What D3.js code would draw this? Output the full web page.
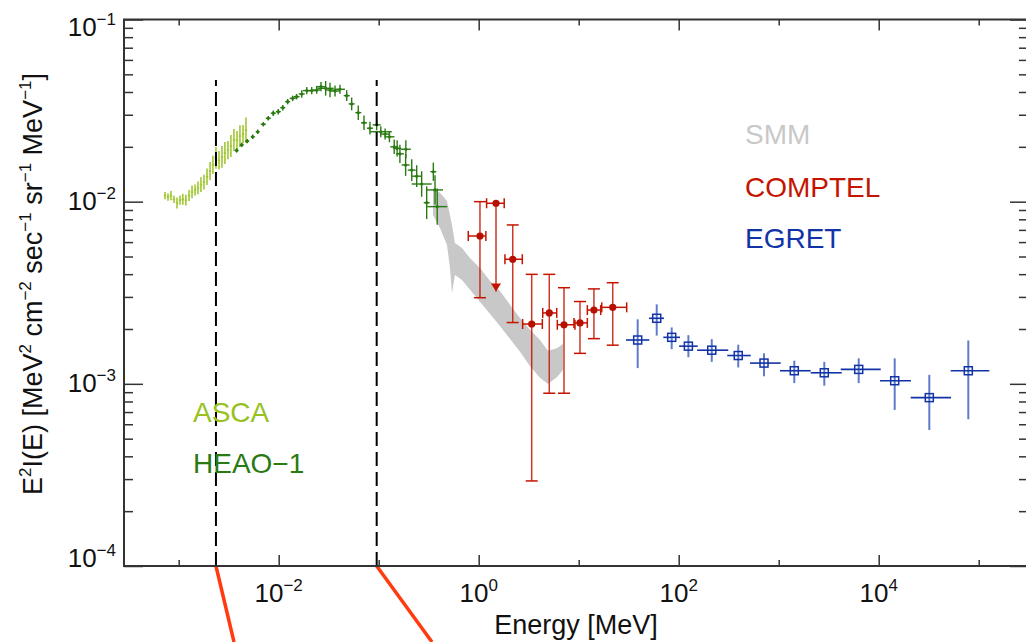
<!DOCTYPE html>
<html>
<head>
<meta charset="utf-8">
<script src="https://cdn.jsdelivr.net/npm/d3@7"></script>
<style>
body { margin: 0; background: #fff; }
text { font-family: "Liberation Sans", Arial, Helvetica, sans-serif; }
</style>
</head>
<body>
<svg id="chart" width="1026" height="642"></svg>
<script>
// ---- data (energies in MeV, E^2 I(E) in MeV^2 cm^-2 s^-1 sr^-1 MeV^-1) ----
const xMajor = [1e-2, 1, 1e2, 1e4];
const xMinor = [1e-3, 1e-1, 1e1, 1e3, 1e5];
const yMajor = [1e-4, 1e-3, 1e-2, 1e-1];
const xExp = ["\u22122", "0", "2", "4"];
const yExp = ["\u22124", "\u22123", "\u22122", "\u22121"];

// ASCA
const ascaE = [7.30e-4, 7.82e-4, 8.38e-4, 8.97e-4, 9.62e-4, 1.03e-3, 1.10e-3, 1.18e-3, 1.27e-3, 1.36e-3,
  1.46e-3, 1.56e-3, 1.67e-3, 1.79e-3, 1.92e-3, 2.06e-3, 2.20e-3, 2.36e-3, 2.53e-3, 2.71e-3,
  2.90e-3, 3.11e-3, 3.33e-3, 3.57e-3, 3.83e-3, 4.10e-3, 4.40e-3, 4.71e-3];
const ascaFlux = [1.08e-2, 1.06e-2, 1.08e-2, 1.03e-2, 9.84e-3, 1.02e-2, 1.03e-2, 1.02e-2, 1.08e-2, 1.13e-2,
  1.16e-2, 1.19e-2, 1.24e-2, 1.28e-2, 1.37e-2, 1.47e-2, 1.59e-2, 1.74e-2, 1.69e-2, 1.76e-2,
  1.85e-2, 1.92e-2, 2.02e-2, 2.18e-2, 2.18e-2, 2.29e-2, 2.35e-2, 2.47e-2];
const ascaErrDex = [0.02, 0.02, 0.025, 0.02, 0.03, 0.025, 0.03, 0.03, 0.03, 0.035,
  0.03, 0.035, 0.04, 0.04, 0.045, 0.05, 0.05, 0.06, 0.05, 0.06,
  0.06, 0.05, 0.06, 0.06, 0.05, 0.06, 0.05, 0.07];

// HEAO-1
const heaoE = [3.80e-3, 4.27e-3, 4.85e-3, 5.50e-3, 6.17e-3, 7.02e-3, 7.87e-3, 8.83e-3, 9.91e-3, 1.10e-2,
  1.23e-2, 1.38e-2, 1.51e-2, 1.70e-2, 1.91e-2, 2.14e-2, 2.40e-2, 2.65e-2, 2.95e-2, 3.26e-2, 3.66e-2,
  4.10e-2, 4.79e-2, 5.37e-2, 6.25e-2, 7.13e-2, 8.18e-2, 9.55e-2, 0.105, 0.116, 0.128,
  0.143, 0.153, 0.163, 0.186, 0.187, 0.214, 0.240, 0.269, 0.302, 0.352, 0.366, 0.385];
const heaoFlux = [1.91e-2, 2.05e-2, 2.15e-2, 2.27e-2, 2.42e-2, 2.66e-2, 2.87e-2, 3.06e-2, 3.12e-2, 3.28e-2,
  3.54e-2, 3.69e-2, 3.77e-2, 3.90e-2, 4.07e-2, 4.07e-2, 4.10e-2, 4.28e-2, 4.19e-2, 4.10e-2, 4.05e-2,
  4.14e-2, 3.82e-2, 3.44e-2, 3.08e-2, 2.71e-2, 2.53e-2, 2.64e-2, 2.42e-2, 2.35e-2, 2.27e-2,
  2.00e-2, 1.96e-2, 1.83e-2, 1.59e-2, 1.94e-2, 1.49e-2, 1.38e-2, 1.25e-2, 9.87e-3, 1.46e-2, 1.16e-2, 9.39e-3];
const heaoDxDex = [0.02, 0.02, 0.02, 0.02, 0.02, 0.025, 0.025, 0.025, 0.025, 0.025,
  0.025, 0.03, 0.03, 0.03, 0.04, 0.04, 0.04, 0.05, 0.08, 0.05, 0.05,
  0.05, 0.03, 0.03, 0.03, 0.03, 0.03, 0.04, 0.11, 0.05, 0.05,
  0.04, 0.04, 0.04, 0.04, 0.05, 0.04, 0.05, 0.1, 0.03, 0.03, 0.08, 0.1];
const heaoDyDex = [0.012, 0.012, 0.012, 0.012, 0.012, 0.012, 0.012, 0.015, 0.015, 0.015,
  0.015, 0.015, 0.015, 0.02, 0.02, 0.02, 0.02, 0.025, 0.04, 0.04, 0.03,
  0.025, 0.03, 0.035, 0.04, 0.04, 0.035, 0.03, 0.03, 0.03, 0.03,
  0.04, 0.045, 0.05, 0.06, 0.05, 0.06, 0.06, 0.07, 0.09, 0.05, 0.08, 0.1];

// SMM band
const smmE = [0.349, 0.410, 0.482, 0.516, 0.541, 0.579, 0.681, 0.818, 1.03, 1.30, 1.63, 2.06, 2.59, 3.26, 4.10, 4.93, 6.07, 6.97];
const smmHi = [1.19e-2, 1.12e-2, 1.01e-2, 8.45e-3, 7.45e-3, 5.93e-3, 5.57e-3, 4.91e-3, 4.33e-3, 3.67e-3, 3.24e-3, 2.71e-3, 2.30e-3, 1.98e-3, 1.74e-3, 1.52e-3, 1.57e-3, 1.66e-3];
const smmLo = [8.45e-3, 7.17e-3, 5.78e-3, 4.33e-3, 3.15e-3, 3.96e-3, 3.72e-3, 3.28e-3, 2.82e-3, 2.42e-3, 2.08e-3, 1.76e-3, 1.50e-3, 1.25e-3, 1.08e-3, 9.99e-4, 1.09e-3, 1.19e-3];

// COMPTEL (second point is an upper limit)
const comptelE = [1.03, 1.49, 2.19, 3.39, 5.08, 7.13, 10.3, 14.2, 21.9];
const comptelElo = [0.787, 1.20, 1.83, 2.75, 4.37, 6.11, 8.97, 12.2, 17.0];
const comptelEhi = [1.18, 1.80, 2.73, 4.33, 6.03, 9.18, 12.2, 16.6, 30.2];
const comptelFlux = [6.48e-3, 9.80e-3, 4.83e-3, 2.13e-3, 2.45e-3, 2.11e-3, 2.16e-3, 2.54e-3, 2.63e-3];
const comptelLo = [2.97e-3, 3.21e-3, 2.17e-3, 2.93e-4, 8.88e-4, 8.88e-4, 1.47e-3, 1.77e-3, 1.63e-3];
const comptelHi = [1.00e-2, 9.80e-3, 7.45e-3, 3.99e-3, 3.99e-3, 3.37e-3, 2.83e-3, 3.32e-3, 3.59e-3];
const comptelLimit = [false, true, false, false, false, false, false, false, false];

// EGRET
const egretE = [38.9, 60.3, 85.1, 125, 214, 394, 713, 1432, 2858, 6310, 14450, 32060, 78700];
const egretElo = [29.7, 50.5, 70.2, 101, 153, 306, 516, 1030, 2089, 4169, 10300, 20890, 52480];
const egretEhi = [50.8, 71.3, 103, 155, 313, 525, 1047, 2089, 4266, 10470, 21040, 52840, 127600];
const egretFlux = [1.74e-3, 2.29e-3, 1.80e-3, 1.61e-3, 1.53e-3, 1.43e-3, 1.30e-3, 1.18e-3, 1.15e-3, 1.20e-3, 1.04e-3, 8.40e-4, 1.18e-3];
const egretLo = [1.22e-3, 1.84e-3, 1.55e-3, 1.40e-3, 1.32e-3, 1.23e-3, 1.10e-3, 1.01e-3, 9.77e-4, 1.01e-3, 7.19e-4, 5.58e-4, 6.39e-4];
const egretHi = [2.26e-3, 2.73e-3, 2.04e-3, 1.85e-3, 1.76e-3, 1.64e-3, 1.47e-3, 1.34e-3, 1.32e-3, 1.38e-3, 1.38e-3, 1.12e-3, 1.73e-3];

// band edges of the two instruments (dashed lines)
const bandEdges = [2.36e-3, 9.55e-2];
const bandTop = 4.66e-2;

// ---- scales ----
const svg = d3.select("#chart");
const x = d3.scaleLog().domain([2.84e-4, 3.04e5]).range([124, 1027]);
const y = d3.scaleLog().domain([1e-4, 1e-1]).range([566, 19.5]);
const dex = (v, d) => v * Math.pow(10, d);

const cAsca = "#97c11f", cHeao = "#2a7a12", cSmm = "#c8c8c8",
      cComp = "#c41400", cEgret = "#1232a8", cEgretV = "#5f7ccb";

// ---- SMM band ----
const smmData = smmE.map((e, i) => ({e: e, lo: smmLo[i], hi: smmHi[i]}));
svg.append("path")
    .datum(smmData)
    .attr("fill", cSmm)
    .attr("d", d3.area().x(d => x(d.e)).y0(d => y(d.lo)).y1(d => y(d.hi)));

// ---- ASCA ----
const gA = svg.append("g").attr("stroke", cAsca).attr("stroke-width", 1.6).attr("opacity", 0.9);
ascaE.forEach((e, i) => {
    const f = ascaFlux[i], d = ascaErrDex[i];
    gA.append("line").attr("x1", x(e)).attr("x2", x(e))
        .attr("y1", y(dex(f, -d))).attr("y2", y(dex(f, d)));
    gA.append("line").attr("x1", x(dex(e, -0.012))).attr("x2", x(dex(e, 0.012)))
        .attr("y1", y(f)).attr("y2", y(f));
});

// ---- HEAO-1 ----
const gH = svg.append("g").attr("stroke", cHeao).attr("stroke-width", 1.4);
heaoE.forEach((e, i) => {
    const f = heaoFlux[i];
    gH.append("line").attr("x1", x(e)).attr("x2", x(e))
        .attr("y1", y(dex(f, -heaoDyDex[i]))).attr("y2", y(dex(f, heaoDyDex[i])));
    gH.append("line").attr("x1", x(dex(e, -heaoDxDex[i]))).attr("x2", x(dex(e, heaoDxDex[i])))
        .attr("y1", y(f)).attr("y2", y(f));
});
svg.append("g").selectAll("circle").data(heaoE).join("circle")
    .attr("cx", d => x(d)).attr("cy", (d, i) => y(heaoFlux[i]))
    .attr("r", 1.6).attr("fill", cHeao);

// ---- COMPTEL ----
const gC = svg.append("g").attr("stroke", cComp).attr("stroke-width", 1.5).attr("fill", "none");
comptelE.forEach((e, i) => {
    const cx = x(e), cy = y(comptelFlux[i]);
    const x0 = x(comptelElo[i]), x1 = x(comptelEhi[i]);
    gC.append("line").attr("x1", x0).attr("x2", x1).attr("y1", cy).attr("y2", cy);
    gC.append("line").attr("x1", x0).attr("x2", x0).attr("y1", cy - 5).attr("y2", cy + 5);
    gC.append("line").attr("x1", x1).attr("x2", x1).attr("y1", cy - 5).attr("y2", cy + 5);
    const yl = y(comptelLo[i]), yh = y(comptelHi[i]);
    gC.append("line").attr("x1", cx).attr("x2", cx).attr("y1", yh).attr("y2", yl)
        .attr("stroke-opacity", 0.85);
    if (comptelLimit[i]) {
        svg.append("path")
            .attr("d", `M${cx - 5},${yl - 8}L${cx + 5},${yl - 8}L${cx},${yl}Z`)
            .attr("fill", cComp);
    } else {
        gC.append("line").attr("x1", cx - 6).attr("x2", cx + 6).attr("y1", yh).attr("y2", yh);
        gC.append("line").attr("x1", cx - 6).attr("x2", cx + 6).attr("y1", yl).attr("y2", yl);
    }
});
svg.append("g").selectAll("circle").data(comptelE).join("circle")
    .attr("cx", d => x(d)).attr("cy", (d, i) => y(comptelFlux[i]))
    .attr("r", 3.6).attr("fill", "#b81000");

// ---- EGRET ----
const gE = svg.append("g");
egretE.forEach((e, i) => {
    const cx = x(e), cy = y(egretFlux[i]);
    gE.append("line").attr("x1", cx).attr("x2", cx)
        .attr("y1", y(egretHi[i])).attr("y2", y(egretLo[i]))
        .attr("stroke", cEgretV).attr("stroke-width", 2);
    gE.append("line").attr("x1", x(egretElo[i])).attr("x2", x(egretEhi[i]))
        .attr("y1", cy).attr("y2", cy)
        .attr("stroke", cEgret).attr("stroke-width", 1.6);
    gE.append("rect").attr("x", cx - 4).attr("y", cy - 4)
        .attr("width", 8).attr("height", 8)
        .attr("fill", "none").attr("stroke", cEgret).attr("stroke-width", 1.5);
});

// ---- dashed band edges and connectors ----
bandEdges.forEach(e => {
    svg.append("line")
        .attr("x1", x(e)).attr("x2", x(e))
        .attr("y1", y(1e-4)).attr("y2", y(bandTop))
        .attr("stroke", "#000").attr("stroke-width", 2)
        .attr("stroke-dasharray", "14,6");
});
svg.append("line").attr("x1", x(bandEdges[0])).attr("y1", 566).attr("x2", 234).attr("y2", 642)
    .attr("stroke", "#ff3b0f").attr("stroke-width", 3.5);
svg.append("line").attr("x1", x(bandEdges[1])).attr("y1", 566).attr("x2", 432).attr("y2", 642)
    .attr("stroke", "#ff3b0f").attr("stroke-width", 3.5);

// ---- frame and ticks ----
const axisColor = "#333";
function ticks(axisFn, vals, size, tr) {
    const g = svg.append("g").attr("transform", tr)
        .call(axisFn.tickValues(vals).tickSize(size).tickFormat(""));
    g.select(".domain").remove();
    g.selectAll("line").attr("stroke", axisColor).attr("stroke-width", 1.5);
}
const yMinor = [];
[1e-4, 1e-3, 1e-2].forEach(b => { for (let k = 2; k <= 9; k++) yMinor.push(b * k); });

ticks(d3.axisBottom(x), xMajor, -11, "translate(0,566)");
ticks(d3.axisBottom(x), xMinor, -6, "translate(0,566)");
ticks(d3.axisTop(x), xMajor, -11, "translate(0,19.5)");
ticks(d3.axisTop(x), xMinor, -6, "translate(0,19.5)");
ticks(d3.axisLeft(y), yMajor, -19, "translate(124,0)");
ticks(d3.axisLeft(y), yMinor, -9, "translate(124,0)");
ticks(d3.axisRight(y), yMajor, -17, "translate(1027,0)");
ticks(d3.axisRight(y), yMinor, -8, "translate(1027,0)");

svg.append("rect").attr("x", 124).attr("y", 19.5).attr("width", 903).attr("height", 546.5)
    .attr("fill", "none").attr("stroke", axisColor).attr("stroke-width", 2);

// ---- tick labels ----
function powLabel(sel, exp, big, small, rise) {
    sel.append("tspan").text("10").attr("font-size", big);
    sel.append("tspan").text(exp).attr("font-size", small).attr("dy", -rise);
}
xMajor.forEach((v, i) => {
    const t = svg.append("text").attr("x", x(v)).attr("y", 602)
        .attr("text-anchor", "middle").attr("fill", "#111");
    powLabel(t, xExp[i], 26, 17, 11);
});
const yLabelShift = [0.5, 8, 8, 16.5];
yMajor.forEach((v, i) => {
    const t = svg.append("text").attr("x", 116).attr("y", y(v) + yLabelShift[i])
        .attr("text-anchor", "end").attr("fill", "#111");
    powLabel(t, yExp[i], 26, 17, 11);
});

// ---- axis titles ----
svg.append("text").attr("x", 576).attr("y", 634).attr("text-anchor", "middle")
    .attr("font-size", 27).attr("fill", "#111").text("Energy [MeV]");

const yt = svg.append("text").attr("transform", "translate(42,284) rotate(-90)")
    .attr("text-anchor", "middle").attr("font-size", 27).attr("fill", "#111");
const yParts = [["E", 0], ["2", 1], ["I(E) [MeV", 0], ["2", 1], [" cm", 0], ["\u22122", 1],
    [" sec", 0], ["\u22121", 1], [" sr", 0], ["\u22121", 1], [" MeV", 0], ["\u22121", 1], ["]", 0]];
let raised = false;
yParts.forEach(p => {
    const ts = yt.append("tspan").text(p[0]);
    if (p[1]) { ts.attr("font-size", 17).attr("dy", -11); raised = true; }
    else if (raised) { ts.attr("dy", 11); raised = false; }
});

// ---- legends ----
const legend = [["SMM", cSmm, 745, 144], ["COMPTEL", cComp, 745, 197], ["EGRET", cEgret, 745, 248],
    ["ASCA", cAsca, 193, 422], ["HEAO\u22121", cHeao, 193, 473]];
svg.selectAll(".leg").data(legend).join("text")
    .attr("class", "leg")
    .attr("x", d => d[2]).attr("y", d => d[3])
    .attr("font-size", 28).attr("fill", d => d[1])
    .text(d => d[0]);
</script>
</body>
</html>
